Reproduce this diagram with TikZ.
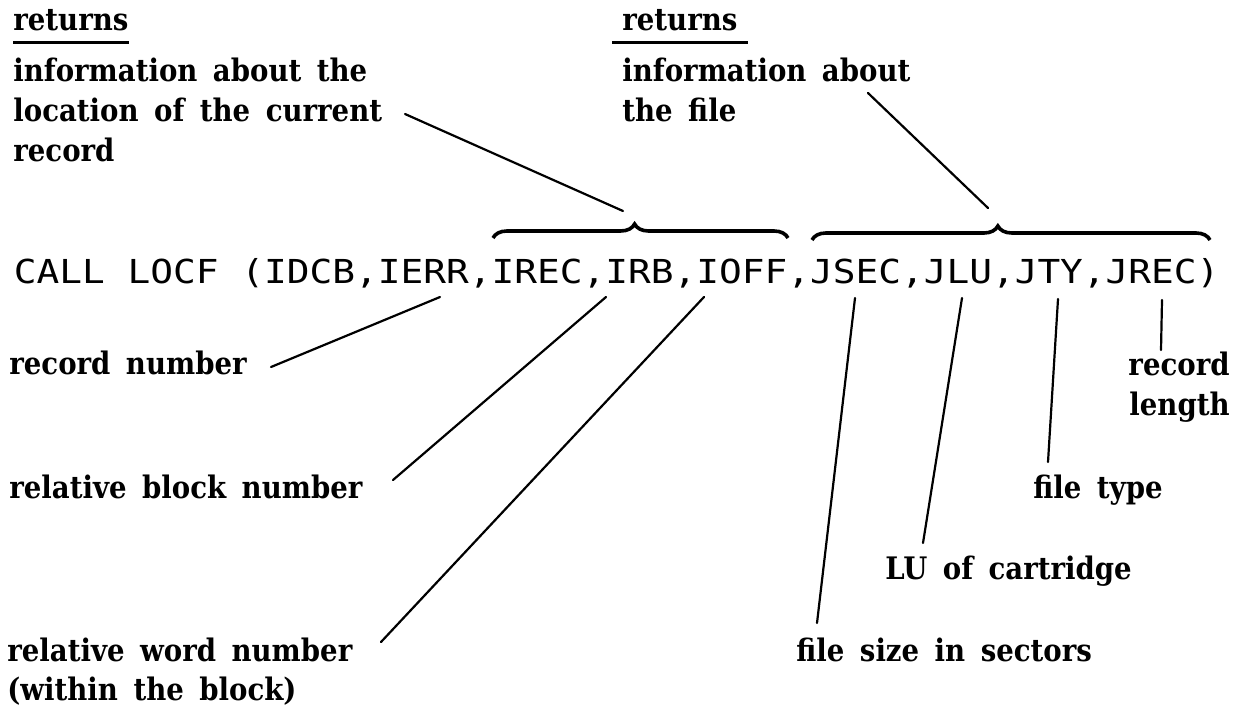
\documentclass[tikz,border=0pt]{standalone}
\usepackage{fontspec}
\setmainfont{DejaVu Serif}[FakeStretch=0.89]
\newfontfamily\codefont{DejaVu Sans Mono}[FakeStretch=1.145]
\usetikzlibrary{decorations.pathreplacing}
\newcommand\lblfont{\fontsize{15.5}{20}\selectfont\bfseries\setlength{\spaceskip}{0.5em}}
\newcommand\cdfont{\codefont\fontsize{16.5}{20}\selectfont}
\tikzset{
  lbl/.style={inner sep=0pt, anchor=base west, font=\lblfont},
  lblr/.style={lbl, anchor=base east},
  leader/.style={line width=1.1pt, line cap=round},
  uline/.style={line width=1.5pt},
  bracestyle/.style={line width=1.8pt, decorate, decoration={brace, amplitude=7pt, #1}},
  codestyle/.style={inner sep=0pt, anchor=base west, font=\cdfont}
}
\begin{document}
\begin{tikzpicture}[x=0.5pt, y=-0.5pt]
\useasboundingbox (0,0) rectangle (1241,707);

% top labels
\node[lbl] (retA) at (13,30) {returns};
\node[lbl] (infoA1) at (13,81) {information about the};
\node[lbl] (infoA2) at (13,121) {location of the current};
\node[lbl] (infoA3) at (13,161) {record};
\node[lbl] (retB) at (622,30) {returns};
\node[lbl] (infoB1) at (622,81) {information about};
\node[lbl] (infoB2) at (622,121) {the file};

\draw[uline] ([yshift=-6pt]retA.base west) -- ([yshift=-6pt]retA.base east);
\draw[uline] ([shift={(-5pt,-6pt)}]retB.base west) -- ([shift={(5pt,-6pt)}]retB.base east);

% code line
\node[codestyle] (code) at (13.5,283) {CALL LOCF (IDCB,IERR,IREC,IRB,IOFF,JSEC,JLU,JTY,JREC)};

% braces
\coordinate (bAw) at (493,238);
\coordinate (bAe) at (788,238);
\coordinate (bBw) at (812,240);
\coordinate (bBe) at (1210,240);
\draw[bracestyle={aspect=0.48}] (bAw) -- (bAe);
\draw[bracestyle={aspect=0.467}] (bBw) -- (bBe);

% bottom labels
\node[lbl] (recnum) at (9,374) {record number};
\node[lbl] (relblock) at (9,498) {relative block number};
\node[lbl] (relword1) at (7,661) {relative word number};
\node[lbl] (relword2) at (7,700) {(within the block)};
\node[lbl] (filesize) at (796,661) {file size in sectors};
\node[lbl] (lucart) at (885,579) {LU of cartridge};
\node[lbl] (filetype) at (1033,498) {file type};
\node[lblr] (reclen1) at (1230,375) {record};
\node[lblr] (reclen2) at (1230,415) {length};

% connector end points
\coordinate (tipA) at (623,211);
\coordinate (tipB) at (988,208);
\coordinate (eInfoA) at (405,114);
\coordinate (eInfoB) at (868,93);
\coordinate (cIREC) at (440,297);
\coordinate (cIRB) at (606,297);
\coordinate (cIOFF) at (704,297);
\coordinate (cJSEC) at (855,298);
\coordinate (cJLU) at (962,298);
\coordinate (cJTY) at (1058,299);
\coordinate (cJREC) at (1162,300);
\coordinate (eRec) at (271,367);
\coordinate (eBlock) at (393,480);
\coordinate (eWord) at (381,642);
\coordinate (eSize) at (817,623);
\coordinate (eLU) at (923,543);
\coordinate (eType) at (1048,462);
\coordinate (eLen) at (1161,350);

% leaders
\draw[leader] (eInfoA) -- (tipA);
\draw[leader] (eInfoB) -- (tipB);
\draw[leader] (eRec) -- (cIREC);
\draw[leader] (eBlock) -- (cIRB);
\draw[leader] (eWord) -- (cIOFF);
\draw[leader] (eSize) -- (cJSEC);
\draw[leader] (eLU) -- (cJLU);
\draw[leader] (eType) -- (cJTY);
\draw[leader] (eLen) -- (cJREC);
\end{tikzpicture}
\end{document}
